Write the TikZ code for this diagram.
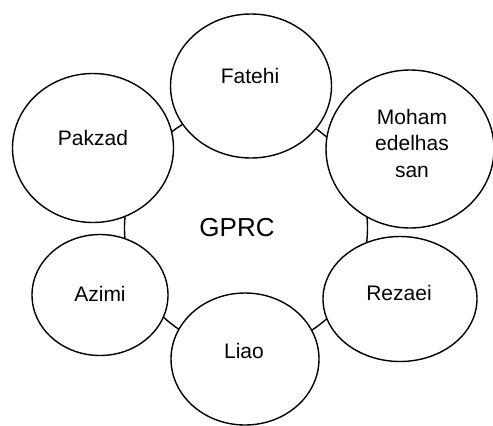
\documentclass[tikz,border=0pt]{standalone}
\usepackage{fontspec}
\setmainfont{Liberation Sans}
\usetikzlibrary{shapes.geometric}
\begin{document}
\begin{tikzpicture}[x=1pt,y=-1pt,
  ring/.style={ellipse,draw=black,line width=1.4pt,fill=white,inner sep=0pt},
  hub/.style={circle,draw=black,line width=1.4pt,inner sep=0pt,minimum size=243pt},
  lbl/.style={font=\fontsize{21}{26.5}\selectfont,align=center,inner sep=0pt},
  biglbl/.style={font=\fontsize{26}{30}\selectfont,inner sep=0pt}]
\useasboundingbox (0,0) rectangle (493,426);
\node[hub] (gprc) at (246,228) {};
\node[biglbl] (gprctext) at (237,228) {GPRC};
\node[ring,minimum width=161pt,minimum height=144pt] (fatehi) at (251,86) {};
\node[ring,minimum width=168pt,minimum height=158pt] (moham) at (410,149) {};
\node[ring,minimum width=161pt,minimum height=149pt] (pakzad) at (93,148) {};
\node[ring,minimum width=136pt,minimum height=121pt] (azimi) at (100,295) {};
\node[ring,minimum width=148pt,minimum height=132pt] (liao) at (245,359) {};
\node[ring,minimum width=154pt,minimum height=125pt] (rezaei) at (400,299) {};
\node[lbl] (t1) at (250,76) {Fatehi};
\node[lbl] (t2) at (412,143) {Moham\\edelhas\\san};
\node[lbl] (t3) at (93,138) {Pakzad};
\node[lbl] (t4) at (100,294) {Azimi};
\node[lbl] (t5) at (244,351) {Liao};
\node[lbl] (t6) at (399,293) {Rezaei};
\end{tikzpicture}
\end{document}
